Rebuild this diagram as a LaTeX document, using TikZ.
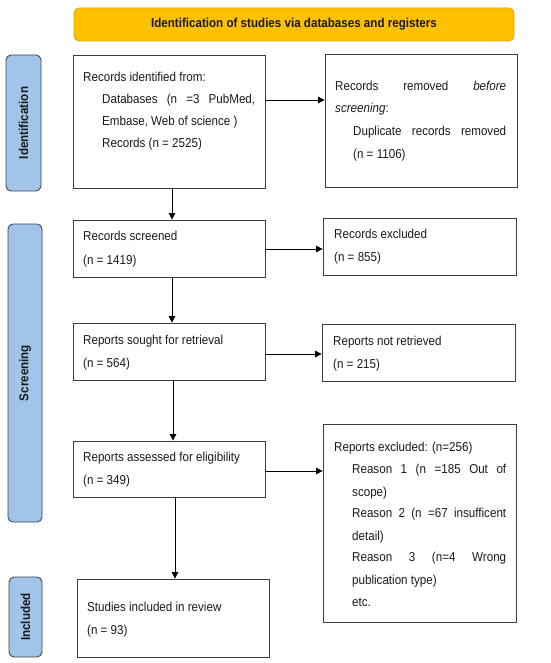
\documentclass[tikz,border=0pt]{standalone}
\usepackage{fontspec}
\setmainfont{Liberation Sans}[FakeStretch=0.9]
\usetikzlibrary{arrows.meta}
\definecolor{banfill}{HTML}{FFC000}
\definecolor{banedge}{HTML}{E0A800}
\definecolor{barfill}{HTML}{A2C4E8}
\definecolor{baredge}{HTML}{3A4656}
\definecolor{ink}{HTML}{1A1A1A}
\definecolor{edge}{HTML}{3C3C3C}
\begin{document}
\begin{tikzpicture}[x=1pt,y=-1pt,
  box/.style={draw=edge,line width=0.8pt,rectangle,inner sep=0pt,fill=white},
  bar/.style={draw=baredge,line width=0.9pt,fill=barfill,rounded corners=5pt,inner sep=0pt},
  barlabel/.style={rotate=90,font=\fontsize{12.9}{14}\selectfont\bfseries,text=ink,inner sep=0pt},
  txt/.style={anchor=base west,inner sep=0pt,font=\fontsize{12.9}{14}\selectfont,text=ink},
  arr/.style={draw=black,line width=0.8pt,-{Triangle[width=6.5pt,length=6.5pt]}}]
\useasboundingbox (0,0) rectangle (550,663);
% banner
\node[draw=banedge,line width=0.8pt,fill=banfill,rounded corners=5pt,minimum width=440,minimum height=33,inner sep=0pt,
  font=\fontsize{12.9}{14}\selectfont\bfseries,text=ink] (ban) at (294,24.5) {Identification of studies via databases and registers};
% side bars
\node[bar,minimum width=35,minimum height=136] (idbar) at (23.5,123) {};
\node[barlabel] (idlab) at (idbar.center) {Identification};
\node[bar,minimum width=34,minimum height=298] (scbar) at (25,373) {};
\node[barlabel] (sclab) at (scbar.center) {Screening};
\node[bar,minimum width=33,minimum height=80] (inbar) at (25.5,617) {};
\node[barlabel] (inlab) at (inbar.center) {Included};
% boxes
\node[box,minimum width=192,minimum height=133] (b1) at (169,121.5) {};
\node[box,minimum width=192,minimum height=133] (rm) at (421,120.5) {};
\node[box,minimum width=192,minimum height=57] (scr) at (169,248.5) {};
\node[box,minimum width=193,minimum height=57] (ex1) at (419.5,246.5) {};
\node[box,minimum width=192,minimum height=57] (sou) at (169,351.5) {};
\node[box,minimum width=193,minimum height=57] (nr) at (418.5,352.5) {};
\node[box,minimum width=192,minimum height=56] (ass) at (169,469) {};
\node[box,minimum width=193,minimum height=198] (ex2) at (419.5,523) {};
\node[box,minimum width=192,minimum height=78] (inc) at (173,618) {};
% texts box 1
\node[txt] (t11) at (83,82) {Records identified from:};
\node[txt] (t12) at (102,104) {\makebox[153pt][s]{Databases (n =3 PubMed,}};
\node[txt] (t13) at (102,126) {Embase, Web of science )};
\node[txt] (t14) at (102,148) {Records (n = 2525)};
% removed
\node[txt] (t21) at (335,91) {\makebox[171pt][s]{Records removed \textit{before}}};
\node[txt] (t22) at (335,113) {\textit{screening}:};
\node[txt] (t23) at (353,136) {\makebox[153pt][s]{Duplicate records removed}};
\node[txt] (t24) at (353,158) {(n = 1106)};
% screened
\node[txt] (t31) at (83,240) {Records screened};
\node[txt] (t32) at (83,264) {(n = 1419)};
\node[txt] (t41) at (334,238) {Records excluded};
\node[txt] (t42) at (334,261) {(n = 855)};
% sought
\node[txt] (t51) at (83,344) {Reports sought for retrieval};
\node[txt] (t52) at (83,367) {(n = 564)};
\node[txt] (t61) at (333,345) {Reports not retrieved};
\node[txt] (t62) at (333,368) {(n = 215)};
% assessed
\node[txt] (t71) at (83,461) {Reports assessed for eligibility};
\node[txt] (t72) at (83,484) {(n = 349)};
% excluded
\node[txt] (t81) at (334,451) {Reports excluded: (n=256)};
\node[txt] (t82) at (352,473) {\makebox[154pt][s]{Reason 1 (n =185 Out of}};
\node[txt] (t83) at (352,496) {scope)};
\node[txt] (t84) at (352,517) {\makebox[154pt][s]{Reason 2 (n =67 insufficent}};
\node[txt] (t85) at (352,540) {detail)};
\node[txt] (t86) at (352,561) {\makebox[154pt][s]{Reason 3 (n=4 Wrong}};
\node[txt] (t87) at (352,584) {publication type)};
\node[txt] (t88) at (352,606) {etc.};
% included
\node[txt] (t91) at (87,611) {Studies included in review};
\node[txt] (t92) at (87,634) {(n = 93)};
% arrows
\draw[arr] ([yshift=21.5pt]b1.east) -- ([yshift=21.5pt]b1.east -| rm.west);
\draw[arr] ([xshift=3pt]b1.south) -- ([xshift=3pt]b1.south |- scr.north);
\draw[arr] ([yshift=-0.5pt]scr.east) -- ([yshift=-0.5pt]scr.east -| ex1.west);
\draw[arr] ([xshift=3pt]scr.south) -- ([xshift=3pt]scr.south |- sou.north);
\draw[arr] ([yshift=-2.5pt]sou.east) -- ([yshift=-2.5pt]sou.east -| nr.west);
\draw[arr] ([xshift=4pt]sou.south) -- ([xshift=4pt]sou.south |- ass.north);
\draw[arr] ([yshift=-2pt]ass.east) -- ([yshift=-2pt]ass.east -| ex2.west);
\draw[arr] ([xshift=6pt]ass.south) -- ([xshift=6pt]ass.south |- inc.north);
\end{tikzpicture}
\end{document}
